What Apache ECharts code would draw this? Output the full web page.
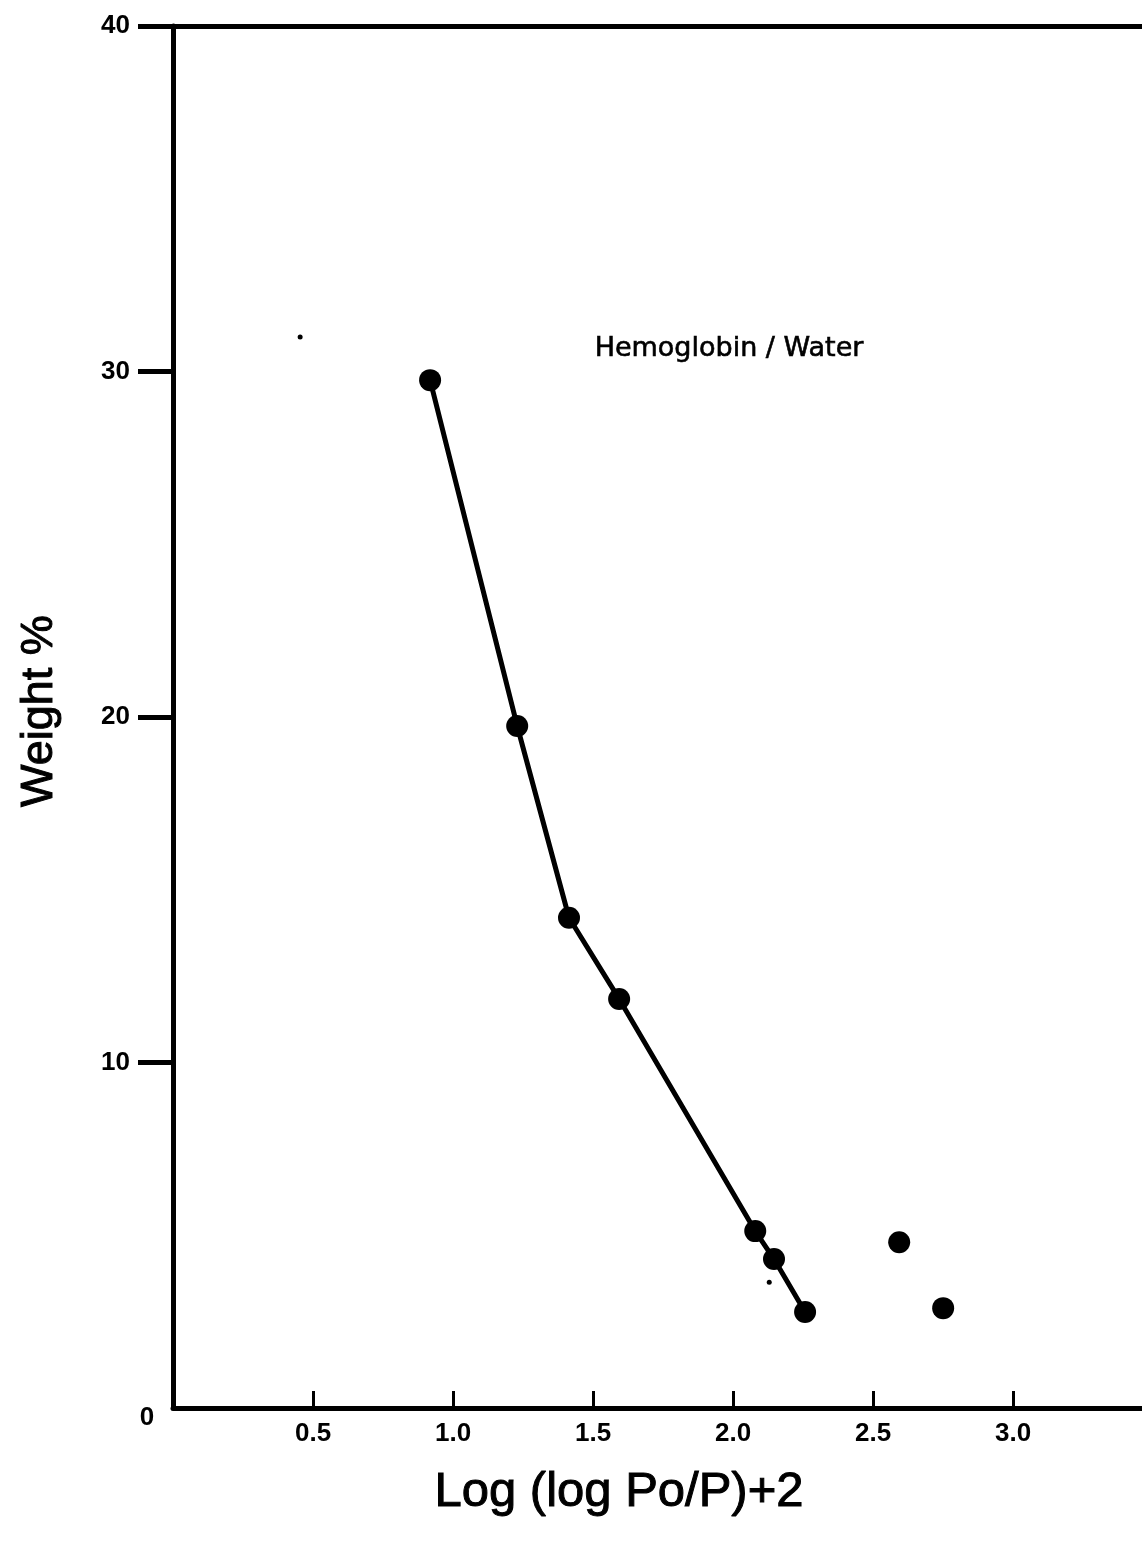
<!DOCTYPE html>
<html>
<head>
<meta charset="utf-8">
<script src="https://cdn.jsdelivr.net/npm/echarts@6/dist/echarts.min.js"></script>
<style>
  html, body { margin: 0; padding: 0; background: #fff; }
  #chart { width: 1142px; height: 1547px; }
</style>
</head>
<body>
<div id="chart"></div>
<script>
// points joined by the curve
const curveX = [0.918, 1.229, 1.414, 1.593, 2.079, 2.146, 2.257]
const curveY = [29.75, 19.74, 14.19, 11.84, 5.12, 4.31, 2.78]
// points left unconnected
const looseX = [2.593, 2.750]
const looseY = [4.80, 2.89]
// little specks on the scan
const speckX = [0.454, 2.129]
const speckY = [31.0, 3.64]

const xTicks = [0.5, 1.0, 1.5, 2.0, 2.5, 3.0]
const yTicks = [10, 20, 30, 40]

const zip = (xs, ys) => xs.map((x, i) => [x, ys[i]])

const ink = '#000'
const labelFont = { color: ink, fontFamily: 'Liberation Sans, Arial, sans-serif', fontWeight: 'bold', fontSize: 26 }

const chart = echarts.init(document.getElementById('chart'))
chart.setOption({
  animation: false,
  backgroundColor: '#fff',
  grid: { left: 173, right: 0, top: 26, bottom: 139, containLabel: false },
  xAxis: [{
    type: 'value',
    min: 0,
    max: 3.46,
    interval: 0.5,
    axisLine: { show: true, onZero: false, lineStyle: { color: ink, width: 5 } },
    axisTick: { show: true, inside: true, length: 17, customValues: xTicks, lineStyle: { color: ink, width: 3 } },
    axisLabel: Object.assign({ margin: 13, customValues: xTicks, formatter: v => v.toFixed(1) }, labelFont),
    splitLine: { show: false },
  }, {
    type: 'value',
    position: 'top',
    min: 0,
    max: 3.46,
    axisLine: { show: true, onZero: false, lineStyle: { color: ink, width: 5 } },
    axisTick: { show: false },
    axisLabel: { show: false },
    splitLine: { show: false },
  }],
  yAxis: {
    type: 'value',
    min: 0,
    max: 40,
    interval: 10,
    axisLine: { show: true, onZero: false, lineStyle: { color: ink, width: 5 } },
    axisTick: { show: true, length: 35, customValues: yTicks, lineStyle: { color: ink, width: 5 } },
    axisLabel: Object.assign({ margin: 43, customValues: yTicks }, labelFont),
    splitLine: { show: false },
  },
  graphic: [
    {
      type: 'text', x: 147, y: 1418,
      style: { text: '0', textAlign: 'center', textVerticalAlign: 'middle',
        font: 'bold 26px "Liberation Sans", Arial, sans-serif', fill: ink },
    },
    {
      type: 'text', x: 729, y: 349,
      style: { text: 'Hemoglobin / Water', textAlign: 'center', textVerticalAlign: 'middle',
        font: '27px "DejaVu Sans", sans-serif', fill: ink, stroke: ink, lineWidth: 0.6 },
    },
    {
      type: 'text', x: 619, y: 1492,
      style: { text: 'Log (log Po/P)+2', textAlign: 'center', textVerticalAlign: 'middle',
        font: '49px "Liberation Sans", Arial, sans-serif', fill: ink, stroke: ink, lineWidth: 1 },
    },
    {
      type: 'text', x: 40, y: 711, rotation: Math.PI / 2,
      style: { text: 'Weight %', textAlign: 'center', textVerticalAlign: 'middle',
        font: '45px "Liberation Sans", Arial, sans-serif', fill: ink, stroke: ink, lineWidth: 1 },
    },
  ],
  series: [
    {
      type: 'line',
      data: zip(curveX, curveY),
      symbol: 'circle',
      symbolSize: 22,
      lineStyle: { color: ink, width: 5 },
      itemStyle: { color: ink, opacity: 1 },
      z: 3,
    },
    {
      type: 'scatter',
      data: zip(looseX, looseY),
      symbol: 'circle',
      symbolSize: 22,
      itemStyle: { color: ink, opacity: 1 },
    },
    {
      type: 'scatter',
      data: zip(speckX, speckY),
      symbol: 'circle',
      symbolSize: 5,
      itemStyle: { color: ink, opacity: 1 },
    },
  ],
})
</script>
</body>
</html>
